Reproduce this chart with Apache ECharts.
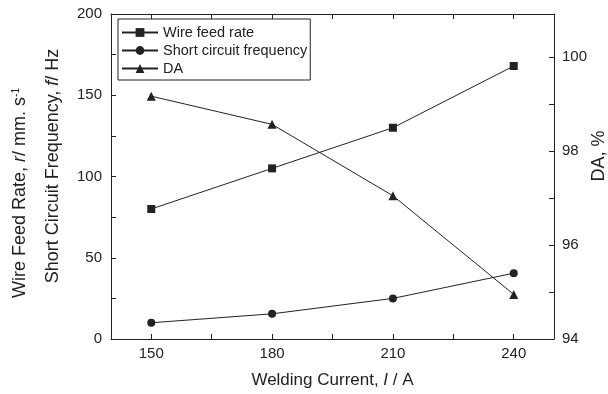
<!DOCTYPE html>
<html>
<head>
<meta charset="utf-8">
<script src="https://cdn.jsdelivr.net/npm/echarts@6/dist/echarts.min.js"></script>
<style>
  html, body { margin: 0; padding: 0; background: #fff; }
  #chart { width: 608px; height: 394px; }
</style>
</head>
<body>
<div id="chart"></div>
<script>
// 焊接电流（横轴）
const currents = [150, 180, 210, 240];
// 送丝速度 / 短路频率（左轴）
const wireFeed = [80, 105, 130, 168];
const shortFreq = [10, 15.5, 25, 40.5];
// DA（右轴，%）
const da = [99.17, 98.57, 97.05, 94.95];

// 刻度
const xLabels = [150, 180, 210, 240];
const xTicks = [150, 165, 180, 195, 210, 225, 240];
const leftLabels = [0, 50, 100, 150, 200];
const leftTicks = [0, 25, 50, 75, 100, 125, 150, 175, 200];
const rightLabels = [94, 96, 98, 100];
const rightTicks = [94, 95, 96, 97, 98, 99, 100];

const ink = '#222';
const font = 'Liberation Sans, Arial, sans-serif';

const chart = echarts.init(document.getElementById('chart'));

const pairs = (ys) => currents.map((x, i) => [x, ys[i]]);

const lineStyle = { color: ink, width: 1 };
const tick = (values) => ({
  show: true, inside: true, length: 5,
  customValues: values,
  lineStyle: { color: ink, width: 1 }
});

chart.setOption({
  animation: false,
  backgroundColor: '#fff',
  textStyle: { fontFamily: font, color: ink },
  grid: { left: 111, right: 54, top: 14, bottom: 55 },
  legend: {
    orient: 'vertical',
    left: 118, top: 19,
    padding: [6, 3, 4, 3],
    itemGap: 3,
    itemWidth: 36,
    itemHeight: 11,
    borderColor: ink,
    borderWidth: 1,
    textStyle: { fontSize: 14.5, color: ink, fontFamily: font },
    data: ['Wire feed rate', 'Short circuit frequency', 'DA']
  },
  xAxis: [
    {
      type: 'value', min: 140, max: 250,
      name: 'Welding Current, {i|I} / A',
      nameLocation: 'middle', nameGap: 33,
      nameTextStyle: {
        fontSize: 17, color: ink, fontFamily: font,
        rich: { i: { fontSize: 17, fontStyle: 'italic', color: ink, fontFamily: font } }
      },
      axisLine: { lineStyle: lineStyle },
      axisTick: tick(xTicks),
      axisLabel: { customValues: xLabels, fontSize: 15, color: ink, margin: 7 },
      splitLine: { show: false }
    },
    {
      type: 'value', min: 140, max: 250, position: 'top',
      axisLine: { lineStyle: lineStyle },
      axisTick: tick(xTicks),
      axisLabel: { show: false },
      splitLine: { show: false }
    }
  ],
  yAxis: [
    {
      type: 'value', min: 0, max: 200, position: 'left',
      axisLine: { show: true, lineStyle: lineStyle },
      axisTick: tick(leftTicks),
      axisLabel: { customValues: leftLabels, fontSize: 15, color: ink, margin: 9 },
      splitLine: { show: false }
    },
    {
      type: 'value', min: 94, max: 100.92, position: 'right',
      axisLine: { show: true, lineStyle: lineStyle },
      axisTick: tick(rightTicks),
      axisLabel: { customValues: rightLabels, fontSize: 15, color: ink, margin: 8 },
      splitLine: { show: false }
    }
  ],
  graphic: [
    {
      type: 'text', x: 20, y: 193, rotation: Math.PI / 2,
      style: {
        text: '{n|Wire Feed Rate, }{i|r}{n|/ mm. s}{s|-1}',
        align: 'center', verticalAlign: 'middle',
        rich: {
          n: { fontSize: 18, fontFamily: font, fill: ink },
          i: { fontSize: 18, fontFamily: font, fontStyle: 'italic', fill: ink },
          s: { fontSize: 10, fontFamily: font, fill: ink, verticalAlign: 'top' }
        }
      }
    },
    {
      type: 'text', x: 53, y: 166, rotation: Math.PI / 2,
      style: {
        text: '{n|Short Circuit Frequency, }{i|f}{n|/ Hz}',
        align: 'center', verticalAlign: 'middle',
        rich: {
          n: { fontSize: 18, fontFamily: font, fill: ink },
          i: { fontSize: 18, fontFamily: font, fontStyle: 'italic', fill: ink }
        }
      }
    },
    {
      type: 'text', x: 599, y: 156, rotation: Math.PI / 2,
      style: {
        text: 'DA, %', fontSize: 18, fontFamily: font, fill: ink,
        align: 'center', verticalAlign: 'middle'
      }
    }
  ],
  series: [
    {
      name: 'Wire feed rate', type: 'line',
      data: pairs(wireFeed),
      symbol: 'rect', symbolSize: 8,
      itemStyle: { color: ink }, lineStyle: lineStyle
    },
    {
      name: 'Short circuit frequency', type: 'line',
      data: pairs(shortFreq),
      symbol: 'circle', symbolSize: 8,
      itemStyle: { color: ink }, lineStyle: lineStyle
    },
    {
      name: 'DA', type: 'line', yAxisIndex: 1,
      data: pairs(da),
      symbol: 'triangle', symbolSize: 9,
      itemStyle: { color: ink }, lineStyle: lineStyle
    }
  ]
});
</script>
</body>
</html>
